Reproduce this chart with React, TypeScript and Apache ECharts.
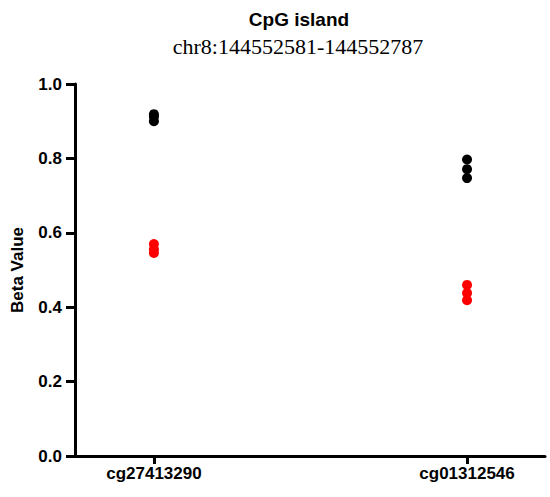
import React, { useEffect, useRef } from "react";
import * as echarts from "echarts";

const categories = ["cg27413290", "cg01312546"];
const blackValues = [
  [0.919, 0.912, 0.9],
  [0.797, 0.771, 0.747],
];
const redValues = [
  [0.57, 0.556, 0.546],
  [0.46, 0.438, 0.419],
];
const yTicks = [0, 0.2, 0.4, 0.6, 0.8, 1.0];

export default function App() {
  const ref = useRef<HTMLDivElement>(null);
  useEffect(() => {
    if (!ref.current) return;
    const chart = echarts.init(ref.current, null, { renderer: "svg" });
    const toPts = (vals: number[][]) =>
      vals.flatMap((arr, i) => arr.map((v) => [i, v]));
    const sans = "'Liberation Sans', Arial, sans-serif";
    chart.setOption({
      animation: false,
      backgroundColor: "#ffffff",
      title: [
        {
          text: "CpG island",
          left: 294,
          top: 5,
          textAlign: "center",
          textStyle: { fontFamily: sans, fontWeight: "bold", fontSize: 19, color: "#000" },
        },
        {
          text: "chr8:144552581-144552787",
          left: 293,
          top: 30,
          textAlign: "center",
          textStyle: { fontFamily: "'Liberation Serif', 'Times New Roman', serif", fontWeight: "normal", fontSize: 22, color: "#000" },
        },
      ],
      grid: { left: 75, right: 5, top: 84, bottom: 41, containLabel: false },
      xAxis: {
        type: "value",
        min: -0.252,
        max: 1.249,
        splitLine: { show: false },
        axisLine: { show: true, onZero: false, lineStyle: { color: "#000", width: 3 } },
        axisTick: { show: true, customValues: [0, 1], length: 8, lineStyle: { color: "#000", width: 3 } },
        axisLabel: {
          show: true,
          customValues: [0, 1],
          formatter: (v: number) => categories[Math.round(v)] ?? "",
          fontFamily: sans,
          fontWeight: "bold",
          fontSize: 17,
          color: "#000",
          margin: 9,
        },
      },
      yAxis: {
        type: "value",
        min: 0,
        max: 1,
        interval: 0.2,
        name: "Beta Value",
        nameLocation: "middle",
        nameGap: 49,
        nameTextStyle: { fontFamily: sans, fontWeight: "bold", fontSize: 17, color: "#000" },
        splitLine: { show: false },
        axisLine: { show: true, onZero: false, lineStyle: { color: "#000", width: 3 } },
        axisTick: { show: true, length: 9, lineStyle: { color: "#000", width: 3 } },
        axisLabel: {
          fontFamily: sans,
          fontWeight: "bold",
          fontSize: 17,
          color: "#000",
          margin: 13,
          formatter: (v: number) => {
            const t = yTicks.find((x) => Math.abs(x - v) < 1e-6);
            return (t ?? v).toFixed(1);
          },
        },
      },
      series: [
        {
          type: "scatter",
          data: toPts(blackValues),
          symbolSize: 10,
          itemStyle: { color: "#000", opacity: 1 },
        },
        {
          type: "scatter",
          data: toPts(redValues),
          symbolSize: 10,
          itemStyle: { color: "#ff0000", opacity: 1 },
        },
      ],
    });
    return () => chart.dispose();
  }, []);
  return <div ref={ref} style={{ width: 550, height: 497, position: "absolute", left: 0, top: 0 }} />;
}
